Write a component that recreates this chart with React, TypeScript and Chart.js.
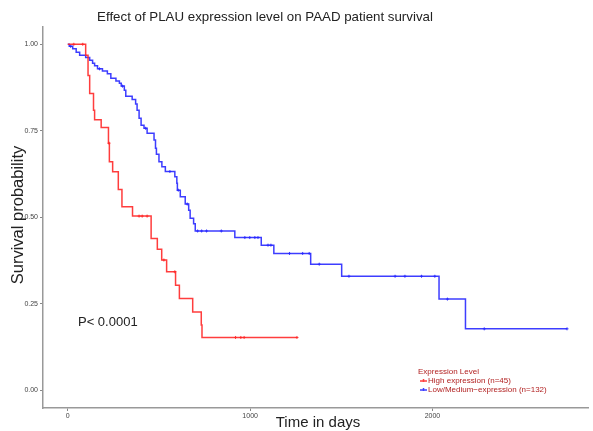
import React, { useEffect, useRef } from "react";
import { Chart, registerables } from "chart.js";

Chart.register(...registerables);

const title = "Effect of PLAU expression level on PAAD patient survival";
const xTitle = "Time in days";
const yTitle = "Survival probability";
const pValueText = "P< 0.0001";
const legendTitle = "Expression Level";
const seriesLabels = ["High expression (n=45)", "Low/Medium\u2212expression (n=132)"];
const xTickValues = [0, 1000, 2000];
const yTickValues = [0, 0.25, 0.5, 0.75, 1];

// High expression (red): event times and survival after each event
const highTimes = [98, 111, 120, 141, 147, 183, 223, 228, 246, 277, 297, 355, 457, 491, 515, 542, 591, 612, 685, 732, 736];
const highSurv = [0.968, 0.91, 0.858, 0.809, 0.782, 0.759, 0.714, 0.66, 0.631, 0.58, 0.53, 0.503, 0.438, 0.407, 0.376, 0.342, 0.303, 0.265, 0.226, 0.188, 0.152];
const highCensorTimes = [33, 82, 226, 391, 408, 435, 527, 587, 920, 949, 967, 1257];
const highCensorSurv = [1, 1, 0.714, 0.503, 0.503, 0.503, 0.376, 0.342, 0.152, 0.152, 0.152, 0.152];

// Low/Medium expression (blue)
const lowTimes = [8, 27, 46, 65, 98, 120, 136, 147, 163, 190, 217, 236, 264, 283, 293, 310, 318, 353, 372, 380, 391, 402, 418, 435, 473, 481, 486, 500, 516, 535, 587, 598, 601, 617, 644, 663, 671, 690, 699, 916, 1061, 1130, 1332, 1502, 2036, 2181];
const lowSurv = [0.994, 0.987, 0.977, 0.968, 0.962, 0.954, 0.945, 0.938, 0.929, 0.923, 0.915, 0.902, 0.894, 0.887, 0.879, 0.867, 0.85, 0.84, 0.827, 0.809, 0.786, 0.766, 0.757, 0.743, 0.723, 0.699, 0.682, 0.66, 0.646, 0.632, 0.617, 0.598, 0.578, 0.559, 0.538, 0.52, 0.497, 0.481, 0.46, 0.441, 0.419, 0.395, 0.364, 0.329, 0.263, 0.177];
const lowCensorTimes = [16, 174, 300, 427, 560, 606, 655, 712, 734, 761, 842, 971, 998, 1026, 1043, 1098, 1114, 1216, 1288, 1324, 1379, 1542, 1795, 1849, 1940, 2013, 2082, 2284, 2738];
const lowCensorSurv = [0.994, 0.929, 0.879, 0.757, 0.632, 0.578, 0.538, 0.46, 0.46, 0.46, 0.46, 0.441, 0.441, 0.441, 0.441, 0.419, 0.419, 0.395, 0.395, 0.395, 0.364, 0.329, 0.329, 0.329, 0.329, 0.329, 0.263, 0.177, 0.177];

const RED = "rgba(255,40,40,0.9)";
const BLUE = "rgba(40,40,255,0.9)";
const LEGEND_TEXT = "#b22222";
const FONT = "'Liberation Sans', Arial, sans-serif";

function stepData(times: number[], surv: number[], censT: number[]) {
  const pts = [{ x: 0, y: 1 }];
  times.forEach((t, i) => pts.push({ x: t, y: surv[i] }));
  const lastT = Math.max(times[times.length - 1], censT[censT.length - 1]);
  pts.push({ x: lastT, y: surv[surv.length - 1] });
  return pts;
}

function pointData(times: number[], surv: number[]) {
  return times.map((t, i) => ({ x: t, y: surv[i] }));
}

const textPlugin = {
  id: "textPlugin",
  afterDraw(chart: any) {
    const ctx = chart.ctx;
    ctx.save();
    ctx.fillStyle = "#222";
    ctx.font = `13.3px ${FONT}`;
    ctx.textAlign = "center";
    ctx.textBaseline = "middle";
    ctx.fillText(title, 265, 17);

    ctx.font = `15px ${FONT}`;
    ctx.fillText(xTitle, 318, 423);

    ctx.save();
    ctx.translate(18, 215);
    ctx.rotate(-Math.PI / 2);
    ctx.font = `16.5px ${FONT}`;
    ctx.fillText(yTitle, 0, 0);
    ctx.restore();

    ctx.font = `13px ${FONT}`;
    ctx.textAlign = "left";
    ctx.fillText(pValueText, 78, 322);

    // legend
    ctx.font = `8px ${FONT}`;
    ctx.fillStyle = LEGEND_TEXT;
    ctx.fillText(legendTitle, 418, 372);
    ctx.fillText(seriesLabels[0], 428, 381);
    ctx.fillText(seriesLabels[1], 428, 390);
    const cols = [RED, BLUE];
    [381, 390].forEach((y, i) => {
      ctx.strokeStyle = cols[i];
      ctx.lineWidth = 1.5;
      ctx.beginPath();
      ctx.moveTo(420, y);
      ctx.lineTo(427, y);
      ctx.moveTo(423.5, y - 2);
      ctx.lineTo(423.5, y + 1);
      ctx.stroke();
    });
    ctx.restore();
  },
};

export default function App() {
  const ref = useRef<HTMLCanvasElement | null>(null);
  useEffect(() => {
    if (!ref.current) return;
    const chart = new Chart(ref.current, {
      type: "line",
      data: {
        datasets: [
          {
            label: seriesLabels[0],
            data: stepData(highTimes, highSurv, highCensorTimes),
            borderColor: RED,
            borderWidth: 1.5,
            stepped: true,
            pointRadius: 0,
            fill: false,
          },
          {
            label: seriesLabels[1],
            data: stepData(lowTimes, lowSurv, lowCensorTimes),
            borderColor: BLUE,
            borderWidth: 1.5,
            stepped: true,
            pointRadius: 0,
            fill: false,
          },
          {
            type: "scatter",
            label: "high censor",
            data: pointData(highCensorTimes, highCensorSurv),
            borderColor: RED,
            backgroundColor: RED,
            pointStyle: "cross",
            pointRadius: 1.5,
            borderWidth: 1,
          } as any,
          {
            type: "scatter",
            label: "low censor",
            data: pointData(lowCensorTimes, lowCensorSurv),
            borderColor: BLUE,
            backgroundColor: BLUE,
            pointStyle: "cross",
            pointRadius: 1.5,
            borderWidth: 1,
          } as any,
        ],
      },
      options: {
        responsive: false,
        animation: false,
        layout: { padding: { left: 0, right: 0, top: 27, bottom: 0 } },
        plugins: { legend: { display: false }, title: { display: false }, tooltip: { enabled: false } },
        scales: {
          x: {
            type: "linear",
            min: -136,
            max: 2853,
            afterBuildTicks: (s: any) => {
              s.ticks = xTickValues.map((v) => ({ value: v }));
            },
            afterFit: (s: any) => {
              s.height = 23;
            },
            ticks: {
              color: "#444",
              font: { size: 7, family: FONT },
              padding: 1,
              maxRotation: 0,
              callback: (v: any) => String(v),
            },
            grid: { drawOnChartArea: false, color: "#888", tickLength: 3 },
            border: { color: "#999", width: 1.5 },
          },
          y: {
            type: "linear",
            min: -0.052,
            max: 1.05,
            afterBuildTicks: (s: any) => {
              s.ticks = yTickValues.map((v) => ({ value: v }));
            },
            afterFit: (s: any) => {
              s.width = 43;
            },
            ticks: {
              color: "#444",
              font: { size: 7, family: FONT },
              padding: 2,
              callback: (v: any) => Number(v).toFixed(2),
            },
            grid: { drawOnChartArea: false, color: "#888", tickLength: 3 },
            border: { color: "#999", width: 1.5 },
          },
        },
      },
      plugins: [textPlugin],
    } as any);
    return () => chart.destroy();
  }, []);
  return (
    <div style={{ position: "absolute", left: 0, top: 0, width: 593, height: 431, background: "#fff" }}>
      <canvas ref={ref} width={593} height={431} style={{ width: 593, height: 431 }} />
    </div>
  );
}
